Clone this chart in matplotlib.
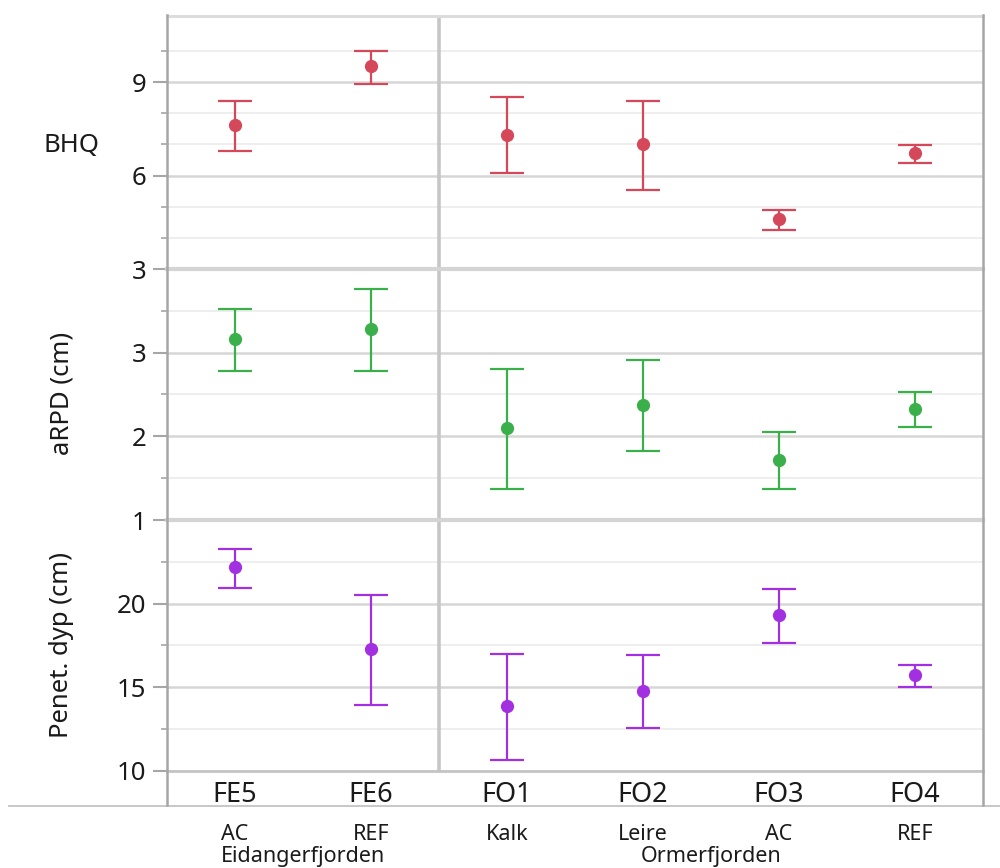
import matplotlib
matplotlib.use("Agg")
import matplotlib.pyplot as plt
from matplotlib.lines import Line2D
from matplotlib.ticker import FixedLocator
import matplotlib.transforms as mtransforms

plt.rcParams['font.family'] = ['Noto Sans', 'DejaVu Sans']

categories = ["FE5", "FE6", "FO1", "FO2", "FO3", "FO4"]
sublabels = ["AC", "REF", "Kalk", "Leire", "AC", "REF"]
groups = ["Eidangerfjorden", "Ormerfjorden"]
group_members = [[0, 1], [2, 3, 4, 5]]

bhq_mean = [7.63, 9.50, 7.31, 7.01, 4.61, 6.72]
bhq_lo = [6.80, 8.95, 6.09, 5.54, 4.25, 6.40]
bhq_hi = [8.40, 9.99, 8.51, 8.40, 4.90, 6.99]

arpd_mean = [3.16, 3.28, 2.10, 2.37, 1.72, 2.33]
arpd_lo = [2.78, 2.78, 1.37, 1.82, 1.37, 2.11]
arpd_hi = [3.52, 3.76, 2.81, 2.91, 2.05, 2.53]

pen_mean = [22.18, 17.27, 13.89, 14.80, 19.32, 15.74]
pen_lo = [20.96, 13.93, 10.68, 12.57, 17.67, 15.04]
pen_hi = [23.29, 20.50, 16.99, 16.91, 20.86, 16.35]

panels = [
    dict(label="BHQ", mean=bhq_mean, lo=bhq_lo, hi=bhq_hi, color="#d5485a",
         ylim=(3, 11.12), major=[3, 6, 9], minor=[4, 5, 7, 8, 10], rot=0,
         lx=72, ly=146),
    dict(label="aRPD (cm)", mean=arpd_mean, lo=arpd_lo, hi=arpd_hi, color="#3bb04a",
         ylim=(1, 4), major=[1, 2, 3], minor=[1.5, 2.5, 3.5], rot=90,
         lx=62, ly=393),
    dict(label="Penet. dyp (cm)", mean=pen_mean, lo=pen_lo, hi=pen_hi, color="#a22fe0",
         ylim=(10, 25), major=[10, 15, 20], minor=[12.5, 17.5, 22.5], rot=90,
         lx=62, ly=645),
]

W, H = 1000, 868
fig = plt.figure(figsize=(W / 100, H / 100), dpi=100)

def fy(py):
    return 1 - py / H

TXT = '#1a1a1a'
left_px, right_px = 167, 983
bounds = [(16, 269), (269, 520), (520, 771)]
x = list(range(len(categories)))

axes = []
for i, (p, (t, b)) in enumerate(zip(panels, bounds)):
    ax = fig.add_axes([left_px / W, fy(b), (right_px - left_px) / W, (b - t) / H])
    axes.append(ax)
    m = p["mean"]
    yerr = [[mm - l for mm, l in zip(m, p["lo"])], [h - mm for mm, h in zip(m, p["hi"])]]
    ax.errorbar(x, m, yerr=yerr, fmt='o', color=p["color"], ecolor=p["color"],
                elinewidth=1.6, capsize=12.5, capthick=1.6, markersize=8.5, zorder=5)
    ax.set_xlim(-0.5, 5.5)
    ax.set_ylim(*p["ylim"])
    ax.yaxis.set_major_locator(FixedLocator(p["major"]))
    ax.yaxis.set_minor_locator(FixedLocator(p["minor"]))
    ax.set_yticklabels([str(v) for v in p["major"]])
    ax.tick_params(axis='y', which='major', length=10, width=1.5, color='#a6a6a6',
                   labelsize=18.5, pad=5, labelcolor=TXT)
    ax.tick_params(axis='y', which='minor', length=4, width=1.2, color='#a6a6a6')
    ax.grid(axis='y', which='major', color='#d6d6d6', lw=1.8, zorder=0)
    ax.grid(axis='y', which='minor', color='#eeeeee', lw=1.4, zorder=0)
    ax.set_axisbelow(True)
    for s in ax.spines.values():
        s.set_visible(False)
    ax.axvline(1.5, color='#c6c6c6', lw=2.6, zorder=1)
    if i < 2:
        ax.tick_params(axis='x', bottom=False, labelbottom=False)
    else:
        ax.set_xticks(x)
        ax.set_xticklabels(categories)
        ax.tick_params(axis='x', length=0, labelsize=19.5, pad=7, labelcolor=TXT)
    fig.text(p["lx"] / W, fy(p["ly"]), p["label"], ha='center', va='center',
             fontsize=18.5, color=TXT, rotation=p["rot"])

# panel border lines
border_lines = [(16, '#dcdcdc', 2.2), (269, '#d4d4d4', 3.0), (520, '#d4d4d4', 3.0), (771, '#c4c4c4', 2.0)]
for py, c, lw in border_lines:
    fig.add_artist(Line2D([left_px / W, right_px / W], [fy(py), fy(py)], color=c, lw=lw, zorder=3))

# left & right frame lines extending below the plot
for px in (left_px, right_px):
    fig.add_artist(Line2D([px / W, px / W], [fy(15), fy(805)], color='#a6a6a6', lw=1.8, zorder=4))
# separator line under category labels
fig.add_artist(Line2D([9 / W, 1.0], [fy(806), fy(806)], color='#c4c4c4', lw=1.3))

bottom_ax = axes[-1]
trans = mtransforms.blended_transform_factory(bottom_ax.transData, fig.transFigure)
for xi, s in zip(x, sublabels):
    fig.text(xi, fy(835), s, transform=trans, ha='center', va='center', fontsize=15.5,
             color=TXT)
for g, mem in zip(groups, group_members):
    gx = sum(mem) / len(mem)
    fig.text(gx, fy(846), g, transform=trans, ha='center', va='top', fontsize=15.5,
             color=TXT)

fig.savefig("out.png", dpi=100, facecolor='white')
